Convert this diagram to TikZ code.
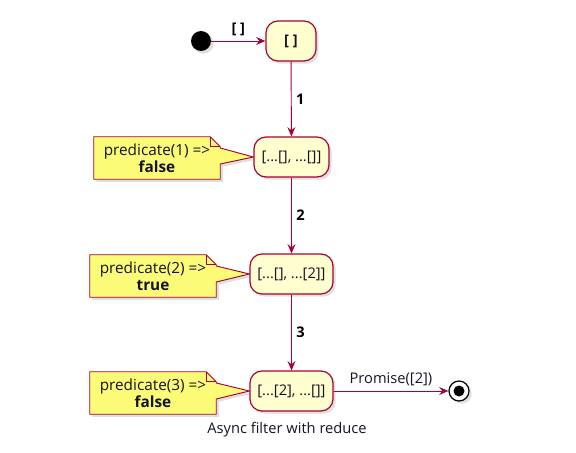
\documentclass[tikz,border=0pt]{standalone}
\usepackage{fontspec}
\setmainfont{Open Sans}
\usetikzlibrary{arrows.meta,calc,shadows,backgrounds}
\definecolor{umlred}{RGB}{168,0,54}
\definecolor{statefill}{RGB}{254,254,206}
\definecolor{notefill}{RGB}{251,251,119}
\definecolor{umltext}{RGB}{20,20,40}

\begin{document}
\begin{tikzpicture}[x=0.75pt,y=-0.75pt,
  every node/.style={font=\fontsize{11}{13}\selectfont,text=umltext},
  shade/.style={drop shadow={opacity=0.25,shadow xshift=2pt,shadow yshift=-2pt}},
  state/.style={draw=umlred,fill=statefill,line width=0.9pt,rounded corners=9pt,minimum height=30pt,inner sep=2pt,shade},
  note/.style={align=center,minimum height=31.5pt,minimum width=94.5pt,inner sep=1pt,font=\fontsize{11.5}{13}\selectfont},
  noteline/.style={draw=umlred,fill=notefill,line width=0.7pt,shade},
  tr/.style={-{Stealth[length=7pt,width=6pt,inset=2.5pt]},umlred,line width=0.7pt},
  lbl/.style={font=\fontsize{11}{13}\selectfont\bfseries,text=black}]
\useasboundingbox (0,0) rectangle (576,453);
% start and states
\node[circle,fill=black,minimum size=15pt,inner sep=0pt,shade] (start) at (201,41) {};
\node[state,minimum width=37.5pt,font=\fontsize{11}{13}\selectfont\bfseries] (s0) at (291,41) {[ ]};
\node[state,minimum width=56.25pt] (s1) at (291.5,157) {[...[], ...[]]};
\node[state,minimum width=62.25pt] (s2) at (291.5,274) {[...[], ...[2]]};
\node[state,minimum width=62.25pt] (s3) at (291.5,391) {[...[2], ...[]]};
% end
\node[circle,draw=black,fill=white,line width=0.9pt,minimum size=15pt,inner sep=0pt,shade] (end) at (459,391) {};
\fill[black] (end.center) circle (5.5);
% notes
\node[note] (n1) at (157,158) {predicate(1) =>\\\textbf{false}};
\node[note] (n2) at (153,276) {predicate(2) =>\\\textbf{true}};
\node[note] (n3) at (153,393) {predicate(3) =>\\\textbf{false}};
\begin{scope}[on background layer]
\foreach \n/\s in {n1/s1,n2/s2,n3/s3} {
  \path[noteline] (\n.north west) -- ($(\n.north east)+(-10,0)$) -- ($(\n.north east)+(0,10)$)
    -- ($(\n.east)+(0,-10)$) -- (\s.west) -- ($(\n.east)+(0,6)$)
    -- (\n.south east) -- (\n.south west) -- cycle;
  \draw[umlred,line width=0.7pt] ($(\n.north east)+(-10,0)$) -- ($(\n.north east)+(-10,10)$) -- ($(\n.north east)+(0,10)$);
}
\end{scope}
% transitions
\draw[tr] (start) -- node[lbl,above] {[ ]} (s0);
\draw[tr] (s0) -- node[lbl,right] {1} (s1);
\draw[tr] (s1) -- node[lbl,right] {2} (s2);
\draw[tr] (s2) -- node[lbl,right] {3} (s3);
\draw[tr] (s3) -- node[above,text=umltext] {Promise([2])} (end);
\node (cap) at (287,430) {Async filter with reduce};
\end{tikzpicture}
\end{document}
